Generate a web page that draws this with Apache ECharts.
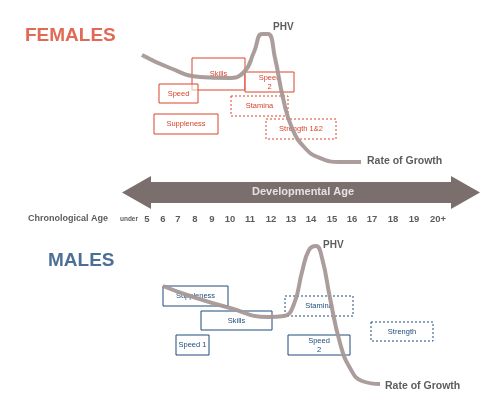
<!DOCTYPE html>
<html><head><meta charset="utf-8">
<script src="https://cdn.jsdelivr.net/npm/echarts@6/dist/echarts.min.js"></script>
<style>html,body{margin:0;background:#fff}#c{width:496px;height:405px}</style>
</head><body><div id="c"></div>
<script>
// page-like coordinates (x right, y down)
const femaleCurve = [[142,55],[170,68],[200,77],[228,78],[244,72],[254,52],[262,34],[268,34],[275,58],[283,98],[292,128],[305,148],[320,158],[340,162],[361,162]];
const maleCurve = [[163,286],[190,296],[230,308],[268,317],[284,316],[294,304],[302,272],[309,250],[316,246],[322,258],[330,298],[340,343],[350,368],[362,381],[380,384]];
const femaleBoxes = [
  ["Skills",192,58,245,90,false],["Speed\n2",245,72,294,92,false],["Speed",159,84,198,103,false],
  ["Stamina",231,96,288,116,true],["Suppleness",154,114,218,134,false],["Strength 1&2",266,119,336,139,true]
];
const maleBoxes = [
  ["Suppleness",163,286,228,306,false],["Skills",201,311,272,330,false],["Speed 1",176,335,209,355,false],
  ["Stamina",285,296,353,316,true],["Speed\n2",288,335,350,355,false],["Strength",371,322,433,341,true]
];
const ageLabels = ["5","6","7","8","9","10","11","12","13","14","15","16","17","18","19","20+"];
const agePos = [147,163,178,195,212,230,250,271,291,311,332,352,372,393,414,438];
const RED = "#d9442b", BLUE = "#1f4b7c", CURVE = "#a69896";

function boxSeries(boxes, color) {
  return {
    type: "custom", coordinateSystem: "cartesian2d", z: 2,
    data: boxes.map(b => [b[1], b[2], b[3], b[4], b[5] ? 1 : 0, b[0]]),
    renderItem: (params, api) => {
      const p1 = api.coord([api.value(0), api.value(1)]);
      const p2 = api.coord([api.value(2), api.value(3)]);
      return {
        type: "rect",
        shape: {x: p1[0], y: p1[1], width: p2[0] - p1[0], height: p2[1] - p1[1]},
        style: {
          fill: "rgba(255,255,255,0.6)", stroke: color, lineWidth: 1,
          lineDash: api.value(4) ? [2, 2] : null,
          text: api.value(5), fill2: null,
          textFill: color, fontSize: 7.5, fontFamily: "Helvetica, Arial, sans-serif", lineHeight: 9
        },
        textContent: {style: {text: api.value(5), fill: color, fontSize: 7.5, lineHeight: 9, align: "center", fontFamily: "Liberation Sans"}},
        textConfig: {position: "inside"}
      };
    }
  };
}

function curve(data) {
  return {type: "line", data: data, smooth: 0.5, symbol: "none", z: 3,
    lineStyle: {color: CURVE, width: 4, opacity: 0.95}};
}

function text(x, y, str, color, size, weight, align) {
  return {type: "scatter", symbolSize: 0, z: 5, data: [[x, y]],
    label: {show: true, position: "inside", formatter: str, color: color, fontSize: size,
      fontWeight: weight, align: align || "left", fontFamily: "Liberation Sans"}};
}

const arrow = {
  type: "custom", z: 1, data: [[122, 151, 451, 480, 176, 182, 203, 209]],
  renderItem: (params, api) => {
    const c = (i, j) => api.coord([api.value(i), api.value(j)]);
    const midY = (api.value(4) + api.value(7)) / 2;
    const pts = [
      api.coord([api.value(0), midY]), c(1, 4), c(1, 5), c(2, 5), c(2, 4),
      api.coord([api.value(3), midY]), c(2, 7), c(2, 6), c(1, 6), c(1, 7)
    ];
    return {type: "polygon", shape: {points: pts}, style: {fill: "#7b6f6d"}};
  }
};

const series = [
  arrow,
  boxSeries(femaleBoxes, RED), boxSeries(maleBoxes, BLUE),
  curve(femaleCurve), curve(maleCurve),
  text(25, 36, "FEMALES", RED, 19, "bold"),
  text(48, 261, "MALES", BLUE, 19, "bold"),
  text(273, 27, "PHV", "#333", 10, "bold"),
  text(323, 245, "PHV", "#333", 10, "bold"),
  text(367, 161, "Rate of Growth", "#333", 10.5, "bold"),
  text(385, 386, "Rate of Growth", "#333", 10.5, "bold"),
  text(303, 192, "Developmental Age", "#fff", 11, "bold", "center"),
  text(28, 219, "Chronological Age", "#333", 9, "bold"),
  text(138, 219, "under", "#333", 6.5, "bold", "right"),
  {type: "scatter", symbolSize: 0, z: 5, data: agePos.map((x, i) => [x, 219, ageLabels[i]]),
    label: {show: true, position: "inside", formatter: p => p.data[2], color: "#333", fontSize: 9.5,
      fontWeight: "bold", fontFamily: "Liberation Sans"}}
];

const chart = echarts.init(document.getElementById("c"));
chart.setOption({
  animation: false,
  grid: {left: 0, right: 0, top: 0, bottom: 0},
  xAxis: {type: "value", min: 0, max: 496, show: false},
  yAxis: {type: "value", min: 0, max: 405, inverse: true, show: false},
  series: series
});
</script></body></html>
